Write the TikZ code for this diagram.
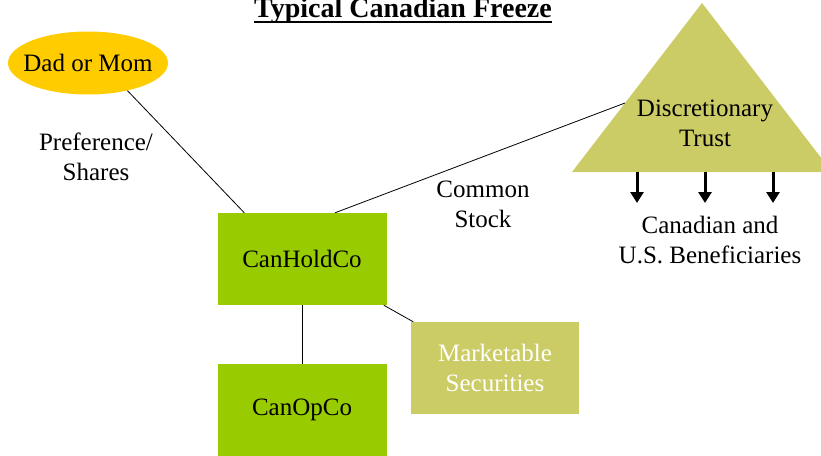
\documentclass[tikz,border=0pt]{standalone}
\usepackage{fontspec}
\setmainfont{Liberation Serif}
\usetikzlibrary{shapes, positioning, arrows.meta, calc}
\definecolor{momgold}{HTML}{FFCC00}
\definecolor{cogreen}{HTML}{99CC00}
\definecolor{trustolive}{HTML}{CCCC66}

\begin{document}
\begin{tikzpicture}[
            x=1pt, y=-1pt,
            every node/.style={font=\fontsize{25}{30}\selectfont, align=center},
            company/.style={rectangle, fill=cogreen, minimum width=169pt, minimum height=92pt},
            assets/.style={rectangle, fill=trustolive, text=white, minimum width=168pt, minimum height=92pt},
            link/.style={draw, line width=0.8pt},
            payout/.style={line width=3pt, -{Triangle[width=13pt,length=11pt]}},
        ]
            \useasboundingbox (0,0) rectangle (821,455);

            % heading
            \node[font=\bfseries\fontsize{28}{34}\selectfont, inner sep=0pt, anchor=base] (title) at (403,17) {Typical Canadian Freeze};
            \draw[line width=2.5pt] ($(title.base west)+(0,5)$) -- ($(title.base east)+(0,5)$);

            % the trust
            \fill[trustolive] (572,172) -- (702,3) -- (832,172) -- cycle;
            \coordinate (trustedge) at (625,103);
            \node (trust) at (705,123) {Discretionary\\Trust};
            \foreach \x [count=\i] in {637,705,773} {
                \coordinate (top\i) at (\x,172);
                \coordinate (tip\i) at (\x,203);
                \draw[payout] (top\i) -- (tip\i);
            }
            \node (benef) at (710,240) {Canadian and\\U.S. Beneficiaries};

            % parent and companies
            \node[ellipse, fill=momgold, minimum width=160pt, minimum height=63pt, inner xsep=-9pt, inner ysep=8pt] (parent) at (88,63) {Dad or Mom};
            \node[company] (hold) at (302,259) {CanHoldCo};
            \node[company] (opco) at (302,410) {CanOpCo};
            \node[assets] (securities) at (495,368) {Marketable\\Securities};

            \node (pref) at (96,157) {Preference/\\Shares};
            \node (common) at (483,204) {Common\\Stock};

            \draw[link] (parent.-35) -- ($(hold.north west)+(27,0)$);
            \draw[link] ($(hold.north)+(33,0)$) -- (trustedge);
            \draw[link] (hold) -- (opco);
            \draw[link] (hold) -- (securities);
        \end{tikzpicture}
\end{document}
